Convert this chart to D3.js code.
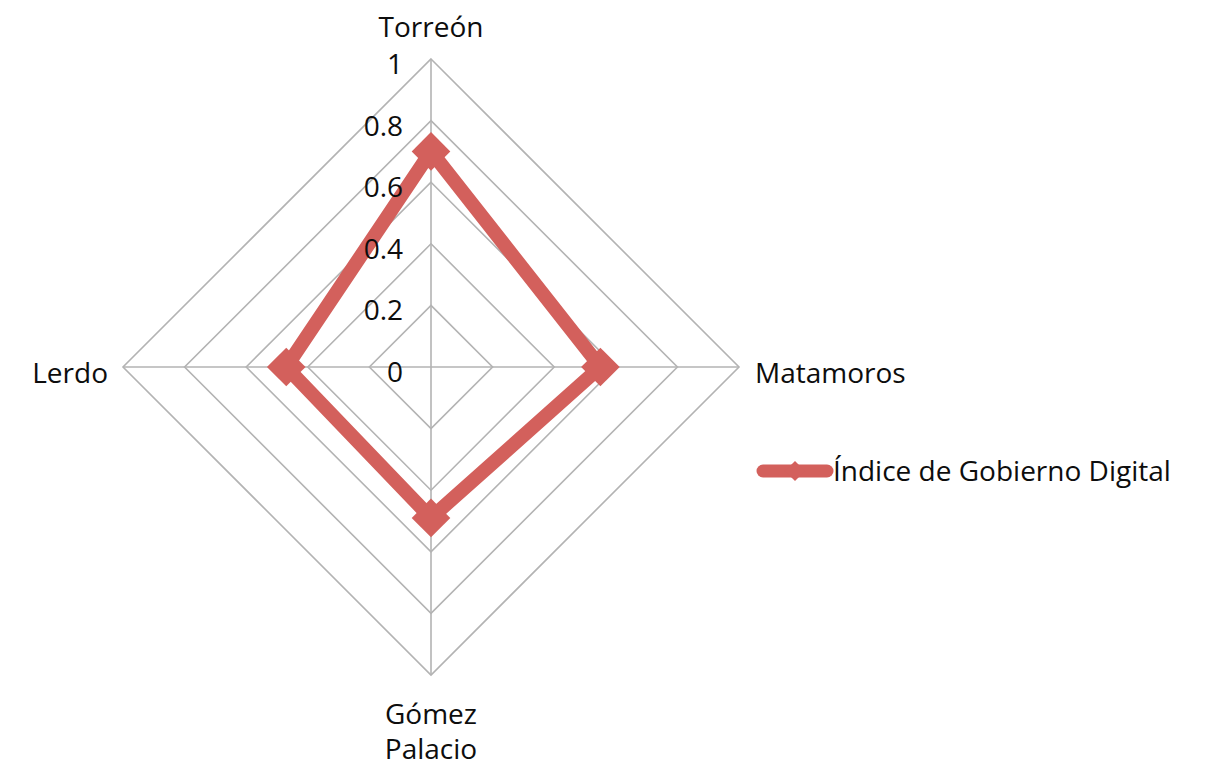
<!DOCTYPE html>
<html>
<head>
<meta charset="utf-8">
<script src="https://cdn.jsdelivr.net/npm/d3@7"></script>
<style>
  body { margin: 0; background: #fff; }
  text { font-family: "Open Sans", sans-serif; fill: #0d0d0d; }
</style>
</head>
<body>
<div id="chart"></div>
<script>
const categories = ["Torreón", "Matamoros", "Gómez Palacio", "Lerdo"];
const values = [0.70, 0.55, 0.49, 0.47];
const ticks = [0, 0.2, 0.4, 0.6, 0.8, 1];
const seriesName = "Índice de Gobierno Digital";

const width = 1209, height = 767;
const cx = 431, cy = 367, radius = 308;
const lineColor = "#d3605c";
const fontSize = 28;

const svg = d3.select("#chart").append("svg")
  .attr("width", width)
  .attr("height", height);

const r = d3.scaleLinear().domain([0, 1]).range([0, radius]);
const angle = d3.scaleBand().domain(categories).range([0, 2 * Math.PI]);

const pt = (c, v) => [cx + r(v) * Math.sin(angle(c)), cy - r(v) * Math.cos(angle(c))];

const g = svg.append("g");

// rings
ticks.filter(t => t > 0).forEach(t => {
  g.append("polygon")
    .attr("points", categories.map(c => pt(c, t).join(",")).join(" "))
    .attr("fill", "none")
    .attr("stroke", "#b3b3b3")
    .attr("stroke-width", 1.6);
});

// spokes
categories.forEach(c => {
  const [x, y] = pt(c, 1);
  g.append("line")
    .attr("x1", cx).attr("y1", cy)
    .attr("x2", x).attr("y2", y)
    .attr("stroke", "#b3b3b3")
    .attr("stroke-width", 1.6);
});

// series line
const line = d3.line().curve(d3.curveLinearClosed);
g.append("path")
  .datum(categories.map((c, i) => pt(c, values[i])))
  .attr("d", line)
  .attr("fill", "none")
  .attr("stroke", lineColor)
  .attr("stroke-width", 14)
  .attr("stroke-linejoin", "miter");

// markers
const diamond = d3.symbol().type(d3.symbolDiamond2).size(950);
g.selectAll(".marker")
  .data(categories)
  .enter()
  .append("path")
  .attr("class", "marker")
  .attr("transform", (c, i) => `translate(${pt(c, values[i])})`)
  .attr("d", diamond)
  .attr("fill", lineColor);

// tick labels
g.selectAll(".tick")
  .data(ticks)
  .enter()
  .append("text")
  .attr("class", "tick")
  .attr("x", cx - 28)
  .attr("y", d => cy - r(d) + 15)
  .attr("text-anchor", "end")
  .attr("font-size", fontSize)
  .text(d => d);

// category labels (Gómez Palacio wraps onto two lines)
const labelPos = {
  "Torreón": { x: cx, y: 37, anchor: "middle" },
  "Matamoros": { x: 755, y: 383, anchor: "start" },
  "Lerdo": { x: 108, y: 383, anchor: "end" },
  "Gómez Palacio": { x: cx, y: 724, anchor: "middle" }
};
categories.forEach(c => {
  const p = labelPos[c];
  const words = c === "Gómez Palacio" ? ["Gómez", "Palacio"] : [c];
  words.forEach((w, i) => {
    g.append("text")
      .attr("x", p.x).attr("y", p.y + i * 35)
      .attr("text-anchor", p.anchor)
      .attr("font-size", fontSize)
      .text(w);
  });
});

// legend
const lg = svg.append("g").attr("transform", "translate(757,471)");
lg.append("line")
  .attr("x1", 6).attr("x2", 70)
  .attr("stroke", lineColor)
  .attr("stroke-width", 13)
  .attr("stroke-linecap", "round");
lg.append("path")
  .attr("transform", "translate(38,0)")
  .attr("d", d3.symbol().type(d3.symbolDiamond2).size(260))
  .attr("fill", lineColor);
lg.append("text")
  .attr("x", 76).attr("y", 10)
  .attr("font-size", fontSize)
  .text(seriesName);
</script>
</body>
</html>
